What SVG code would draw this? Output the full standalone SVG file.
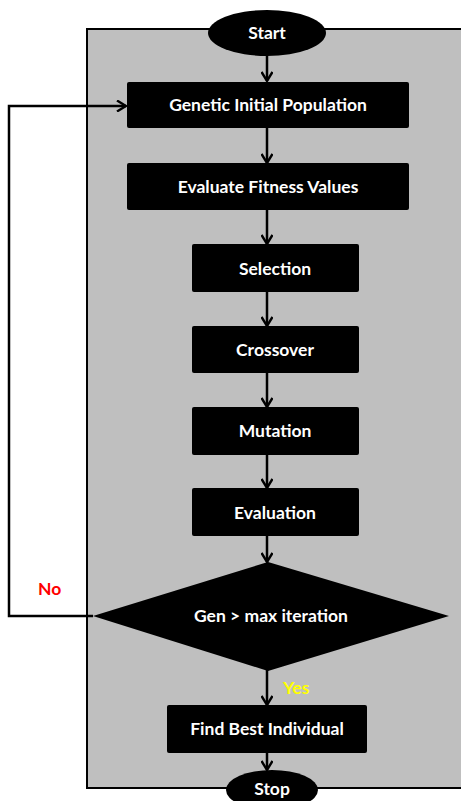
<svg xmlns="http://www.w3.org/2000/svg" width="461" height="801" viewBox="0 0 461 801">
<defs>
<marker id="arr" viewBox="0 0 12 12" refX="11" refY="6" markerWidth="12" markerHeight="12" markerUnits="userSpaceOnUse" orient="auto">
<path d="M2,0.5 L11,6 L2,11.5" fill="none" stroke="#000" stroke-width="2.4" stroke-linejoin="miter"/>
</marker>
<style>
.box{fill:#000;}
.lbl{fill:#fff;font-family:Lato,"Liberation Sans",sans-serif;font-weight:bold;font-size:17.5px;text-anchor:middle;}
.con{fill:none;stroke:#000;stroke-width:2.5;}
.tag{font-family:Lato,"Liberation Sans",sans-serif;font-weight:bold;font-size:17.5px;}
</style>
</defs>
<rect id="container" x="87" y="29" width="380" height="759" fill="#bfbfbf" stroke="#000" stroke-width="2"/>
<g id="connectors">
<line class="con" x1="267" y1="55" x2="267" y2="81" marker-end="url(#arr)"/>
<line class="con" x1="267" y1="128" x2="267" y2="163" marker-end="url(#arr)"/>
<line class="con" x1="267" y1="210" x2="267" y2="244" marker-end="url(#arr)"/>
<line class="con" x1="267" y1="292" x2="267" y2="326" marker-end="url(#arr)"/>
<line class="con" x1="267" y1="373" x2="267" y2="407" marker-end="url(#arr)"/>
<line class="con" x1="267" y1="455" x2="267" y2="488" marker-end="url(#arr)"/>
<line class="con" x1="267" y1="536" x2="267" y2="562" marker-end="url(#arr)"/>
<line class="con" x1="267" y1="670" x2="267" y2="705" marker-end="url(#arr)"/>
<line class="con" x1="267" y1="753" x2="267" y2="770" marker-end="url(#arr)"/>
<polyline class="con" points="93,616 9,616 9,106 126,106" marker-end="url(#arr)"/>
<text class="tag" x="38" y="595" fill="#ff0000">No</text>
<text class="tag" x="283" y="694" fill="#ffff00">Yes</text>
</g>
<g id="start"><ellipse cx="267" cy="33" rx="59" ry="23" fill="#000"/><text class="lbl" x="267" y="39">Start</text></g>
<g id="genetic"><rect class="box" x="127" y="82" width="282" height="46" rx="2"/><text class="lbl" x="268" y="111">Genetic Initial Population</text></g>
<g id="evaluate"><rect class="box" x="127" y="163" width="282" height="47" rx="2"/><text class="lbl" x="268" y="193">Evaluate Fitness Values</text></g>
<g id="selection"><rect class="box" x="192" y="244" width="167" height="48" rx="2"/><text class="lbl" x="275" y="275">Selection</text></g>
<g id="crossover"><rect class="box" x="192" y="326" width="167" height="47" rx="2"/><text class="lbl" x="275" y="356">Crossover</text></g>
<g id="mutation"><rect class="box" x="192" y="407" width="167" height="48" rx="2"/><text class="lbl" x="275" y="437">Mutation</text></g>
<g id="evaluation"><rect class="box" x="192" y="488" width="167" height="48" rx="2"/><text class="lbl" x="275" y="519">Evaluation</text></g>
<g id="decision"><polygon points="93,616 268,562 449,616 268,671" fill="#000"/><text class="lbl" x="271" y="622">Gen &gt; max iteration</text></g>
<g id="findbest"><rect class="box" x="167" y="705" width="200" height="48" rx="2"/><text class="lbl" x="267" y="735">Find Best Individual</text></g>
<g id="stop"><ellipse cx="272" cy="790" rx="46" ry="20" fill="#000"/><text class="lbl" x="272" y="795">Stop</text></g>
</svg>
